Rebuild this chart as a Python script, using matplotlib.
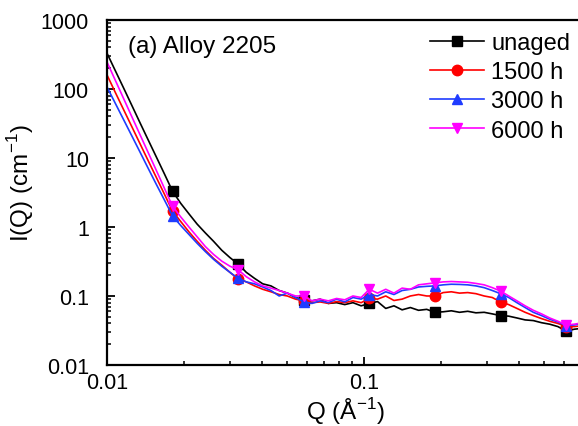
import matplotlib
matplotlib.use('Agg')
import matplotlib.pyplot as plt
import numpy as np

plt.rcParams['font.family'] = ['Liberation Sans', 'DejaVu Sans']
plt.rcParams['mathtext.fontset'] = 'custom'
plt.rcParams['mathtext.rm'] = 'Liberation Sans'

# scattering vector Q (1/A)
q = [0.0100, 0.01076, 0.01158, 0.01246, 0.01341, 0.01443, 0.01553, 0.01672,
     0.01799, 0.01936, 0.02084, 0.02243, 0.02414, 0.02598, 0.02796, 0.03009,
     0.03238, 0.03485, 0.03751, 0.04037, 0.04345, 0.04676, 0.05032, 0.05416,
     0.05829, 0.06273, 0.06751, 0.07266, 0.07820, 0.08416, 0.09057, 0.09748,
     0.1049, 0.1129, 0.1215, 0.1308, 0.1407, 0.1515, 0.1630, 0.1754,
     0.1888, 0.2032, 0.2187, 0.2353, 0.2533, 0.2726, 0.2934, 0.3157,
     0.3398, 0.3657, 0.3936, 0.4236, 0.4559, 0.4906, 0.5280, 0.5683,
     0.6116, 0.6582, 0.7084]

unaged = [330, 186, 105, 59, 33, 18.6, 10.5, 5.9,
          3.3, 2.2, 1.55, 1.1, 0.82, 0.62, 0.46, 0.36,
          0.29, 0.22, 0.18, 0.15, 0.14, 0.12, 0.11, 0.095,
          0.088, 0.085, 0.09, 0.078, 0.08, 0.075, 0.08, 0.072,
          0.078, 0.083, 0.066, 0.072, 0.063, 0.068, 0.062, 0.064,
          0.058, 0.059, 0.061, 0.058, 0.06, 0.057, 0.058, 0.055,
          0.052, 0.051, 0.048, 0.045, 0.044, 0.041, 0.039, 0.036,
          0.031, 0.033, 0.034]

h1500 = [160, 90, 51, 29, 16.4, 9.3, 5.3, 3.0,
         1.7, 1.2, 0.85, 0.62, 0.46, 0.35, 0.28, 0.22,
         0.176, 0.16, 0.14, 0.125, 0.115, 0.105, 0.1, 0.09,
         0.085, 0.08, 0.082, 0.078, 0.083, 0.08, 0.085, 0.08,
         0.092, 0.09, 0.1, 0.086, 0.09, 0.1, 0.105, 0.1,
         0.1, 0.112, 0.115, 0.11, 0.112, 0.108, 0.1, 0.095,
         0.082, 0.075, 0.066, 0.058, 0.052, 0.047, 0.043, 0.04,
         0.036, 0.036, 0.037]

h3000 = [107, 62.5, 36.5, 21.3, 12.4, 7.2, 4.2, 2.47,
         1.45, 1.05, 0.78, 0.58, 0.44, 0.34, 0.27, 0.22,
         0.18, 0.16, 0.15, 0.135, 0.12, 0.1, 0.11, 0.095,
         0.082, 0.078, 0.085, 0.08, 0.09, 0.082, 0.095, 0.09,
         0.105, 0.1, 0.115, 0.105, 0.12, 0.125, 0.135, 0.138,
         0.14, 0.145, 0.148, 0.147, 0.145, 0.14, 0.132, 0.12,
         0.108, 0.095, 0.08, 0.068, 0.058, 0.052, 0.046, 0.042,
         0.037, 0.038, 0.04]

h6000 = [246, 135, 74, 40.5, 22.2, 12.2, 6.7, 3.65,
         2.0, 1.4, 1.0, 0.72, 0.52, 0.4, 0.32, 0.27,
         0.24, 0.19, 0.16, 0.14, 0.13, 0.12, 0.11, 0.1,
         0.1, 0.085, 0.09, 0.085, 0.092, 0.088, 0.1, 0.095,
         0.125, 0.11, 0.125, 0.11, 0.13, 0.125, 0.145, 0.15,
         0.155, 0.16, 0.162, 0.16, 0.158, 0.152, 0.145, 0.132,
         0.118, 0.1, 0.085, 0.072, 0.062, 0.055, 0.048, 0.043,
         0.038, 0.039, 0.041]

labels = ['unaged', '1500 h', '3000 h', '6000 h']
colors = ['black', 'red', '#1f3cff', 'magenta']
markers = ['s', 'o', '^', 'v']
mark_idx = [8, 16, 24, 32, 40, 48, 56]

fig = plt.figure(figsize=(5.78, 4.27), dpi=100)
# axis runs to Q = 1, the right part falls outside the canvas
ax = fig.add_axes([0.1851, 0.1429, 0.8893, 0.8080])

for y, lab, c, m in zip([unaged, h1500, h3000, h6000], labels, colors, markers):
    ax.plot(q, y, color=c, lw=1.2, marker=m, markevery=mark_idx,
            markersize=7.5, label=lab)

ax.set_xscale('log')
ax.set_yscale('log')
ax.set_xlim(0.01, 1)
ax.set_ylim(0.01, 1000)
ax.set_xticks([0.01, 0.1])
ax.set_xticklabels(['0.01', '0.1'])
ax.set_yticks([0.01, 0.1, 1, 10, 100, 1000])
ax.set_yticklabels(['0.01', '0.1', '1', '10', '100', '1000'])
ax.tick_params(which='major', direction='in', length=6, width=1.3,
               labelsize=15.5)
ax.tick_params(axis='y', which='major', pad=13)
ax.tick_params(axis='x', which='major', pad=5)
ax.tick_params(which='minor', direction='in', length=3, width=1.1)
for s in ax.spines.values():
    s.set_linewidth(1.6)

ax.set_xlabel('Q (Å$^{-1}$)', fontsize=17.5)
ax.xaxis.set_label_coords(0.463, -0.088)
ax.set_ylabel('I(Q) (cm$^{-1}$)', fontsize=17.5)
ax.yaxis.set_label_coords(-0.138, 0.53)

ax.text(0.01205, 420, '(a) Alloy 2205', fontsize=17.5, va='center', ha='left')

ax.legend(loc='upper left', bbox_to_anchor=(0.744, 0.922),
          bbox_transform=fig.transFigure, frameon=False, fontsize=17,
          handlelength=2.3, handletextpad=0.3, labelspacing=0.3,
          borderpad=0, borderaxespad=0)

fig.savefig('out.png', dpi=100)
